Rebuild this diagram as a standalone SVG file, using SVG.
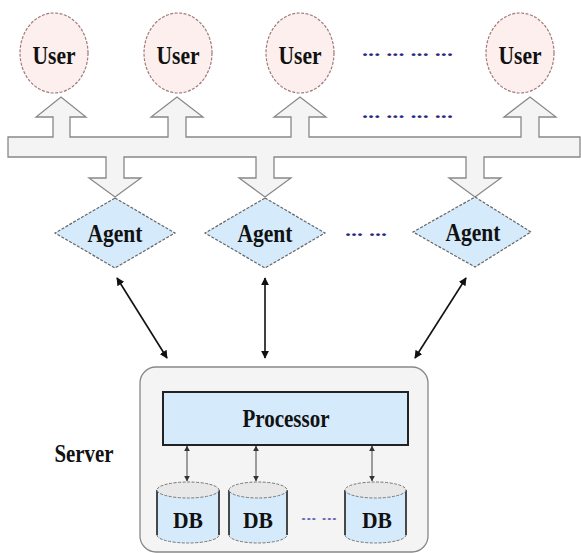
<svg xmlns="http://www.w3.org/2000/svg" width="581" height="553" viewBox="0 0 581 553">
<style>
.lbl{font-family:"Liberation Serif","DejaVu Serif",serif;font-weight:bold;fill:#111;text-anchor:middle}
.dots{font-family:"Liberation Serif","DejaVu Serif",serif;font-weight:bold;fill:#2a2a80}
.user{fill:#fcefee;stroke:#a07a7a;stroke-width:1.2;stroke-dasharray:3 1.5}
.agent{fill:#d5eafb;stroke:#666;stroke-width:1.2;stroke-dasharray:3 1.5}
.conn{stroke:#111;stroke-width:1.6;fill:none;marker-start:url(#ah);marker-end:url(#ah)}
.dbc{stroke:#444;stroke-width:1;fill:none;marker-start:url(#sh);marker-end:url(#sh)}
.dbbody{fill:#d5eafb;stroke:none}
.dbside{stroke:#111;stroke-width:1.5}
.dbedge{fill:none;stroke:#777;stroke-width:1;stroke-dasharray:3 1.5}
.dbtop{fill:#e8e8e8;stroke:#777;stroke-width:1;stroke-dasharray:3 1.5}
</style>
<defs>
<marker id="ah" viewBox="0 0 10 10" refX="9" refY="5" markerWidth="8" markerHeight="8" markerUnits="userSpaceOnUse" orient="auto-start-reverse">
<path d="M0,0 L10,5 L0,10 Z" fill="#111"/>
</marker>
<marker id="sh" viewBox="0 0 10 10" refX="9" refY="5" markerWidth="6" markerHeight="6" markerUnits="userSpaceOnUse" orient="auto-start-reverse">
<path d="M0,0 L10,5 L0,10 Z" fill="#333"/>
</marker>
</defs>
<rect width="581" height="553" fill="#fff"/>

<g id="bus">
<path d="M8,137 L53,137 L53,117 L36,117 L61,97 L86,117 L70,117 L70,137 L168,137 L168,117 L151,117 L177,97 L203,117 L186,117 L186,137 L291,137 L291,117 L274,117 L300,97 L326,117 L309,117 L309,137 L521,137 L521,117 L504,117 L530,97 L556,117 L539,117 L539,137 L580,137 L580,157 L484,157 L484,178 L501,178 L475,197 L449,178 L466,178 L466,157 L274,157 L274,178 L291,178 L265,197 L239,178 L256,178 L256,157 L124,157 L124,178 L141,178 L115,197 L89,178 L106,178 L106,157 L8,157 Z" fill="#f4f4f4" stroke="#888" stroke-width="1.3" stroke-linejoin="miter"/>
</g>

<g id="user1"><ellipse class="user" cx="54" cy="53" rx="34" ry="40"/><text class="lbl" x="54" y="64" font-size="26" textLength="43" lengthAdjust="spacingAndGlyphs">User</text></g>
<g id="user2"><ellipse class="user" cx="178" cy="53" rx="34" ry="40"/><text class="lbl" x="178" y="64" font-size="26" textLength="43" lengthAdjust="spacingAndGlyphs">User</text></g>
<g id="user3"><ellipse class="user" cx="300" cy="53" rx="34" ry="40"/><text class="lbl" x="300" y="64" font-size="26" textLength="43" lengthAdjust="spacingAndGlyphs">User</text></g>
<g id="user4"><ellipse class="user" cx="520" cy="53" rx="34" ry="40"/><text class="lbl" x="520" y="64" font-size="26" textLength="43" lengthAdjust="spacingAndGlyphs">User</text></g>
<text class="dots" x="362" y="56" font-size="16" textLength="91" lengthAdjust="spacingAndGlyphs">... ... ... ...</text>
<text class="dots" x="362" y="118" font-size="16" textLength="91" lengthAdjust="spacingAndGlyphs">... ... ... ...</text>

<g id="agent1"><path class="agent" d="M115,198 L175,233 L115,268 L55,233 Z"/><text class="lbl" x="115" y="242" font-size="26" textLength="55" lengthAdjust="spacingAndGlyphs">Agent</text></g>
<g id="agent2"><path class="agent" d="M265,198 L325,233 L265,268 L205,233 Z"/><text class="lbl" x="265" y="242" font-size="26" textLength="55" lengthAdjust="spacingAndGlyphs">Agent</text></g>
<g id="agent3"><path class="agent" d="M475,197 L531,232 L475,267 L413,232 Z"/><text class="lbl" x="473" y="241" font-size="26" textLength="55" lengthAdjust="spacingAndGlyphs">Agent</text></g>
<text class="dots" x="345" y="236" font-size="16" textLength="42" lengthAdjust="spacingAndGlyphs">... ...</text>

<g id="server">
<rect x="140" y="367" width="288" height="185" rx="16" fill="#f4f4f4" stroke="#888" stroke-width="1.3"/>
<text class="lbl" x="84" y="462" font-size="25" textLength="59" lengthAdjust="spacingAndGlyphs">Server</text>
</g>
<g id="processor">
<rect x="163" y="392" width="245" height="53" fill="#d5eafb" stroke="#222" stroke-width="2"/>
<text class="lbl" x="286" y="427" font-size="25" textLength="87" lengthAdjust="spacingAndGlyphs">Processor</text>
</g>

<g id="db1">
<path class="dbbody" d="M157,490 L219,490 L219,535 A31,8 0 0 1 157,535 Z"/>
<path class="dbedge" d="M157,535 A31,8 0 0 0 219,535"/>
<line class="dbside" x1="157" y1="490" x2="157" y2="535"/><line class="dbside" x1="219" y1="490" x2="219" y2="535"/>
<ellipse class="dbtop" cx="188" cy="490" rx="31" ry="8"/>
<text class="lbl" x="188" y="528" font-size="24" textLength="30" lengthAdjust="spacingAndGlyphs">DB</text>
</g>
<g id="db2">
<path class="dbbody" d="M229,490 L287,490 L287,535 A29,8 0 0 1 229,535 Z"/>
<path class="dbedge" d="M229,535 A29,8 0 0 0 287,535"/>
<line class="dbside" x1="229" y1="490" x2="229" y2="535"/><line class="dbside" x1="287" y1="490" x2="287" y2="535"/>
<ellipse class="dbtop" cx="258" cy="490" rx="29" ry="8"/>
<text class="lbl" x="258" y="528" font-size="24" textLength="30" lengthAdjust="spacingAndGlyphs">DB</text>
</g>
<g id="db3">
<path class="dbbody" d="M345,490 L406,490 L406,535 A30.5,8 0 0 1 345,535 Z"/>
<path class="dbedge" d="M345,535 A30.5,8 0 0 0 406,535"/>
<line class="dbside" x1="345" y1="490" x2="345" y2="535"/><line class="dbside" x1="406" y1="490" x2="406" y2="535"/>
<ellipse class="dbtop" cx="375.5" cy="490" rx="30.5" ry="8"/>
<text class="lbl" x="377" y="528" font-size="24" textLength="30" lengthAdjust="spacingAndGlyphs">DB</text>
</g>
<text class="dots" x="301" y="520" font-size="12" style="fill:#6a6ab0" textLength="36" lengthAdjust="spacingAndGlyphs">... ...</text>

<g id="connectors">
<line class="conn" x1="117" y1="278" x2="167" y2="358"/>
<line class="conn" x1="265" y1="278" x2="265" y2="358"/>
<line class="conn" x1="466" y1="278" x2="415" y2="358"/>
<line class="dbc" x1="187" y1="446" x2="187" y2="481"/>
<line class="dbc" x1="256" y1="446" x2="256" y2="481"/>
<line class="dbc" x1="372" y1="446" x2="372" y2="481"/>
</g>
</svg>
